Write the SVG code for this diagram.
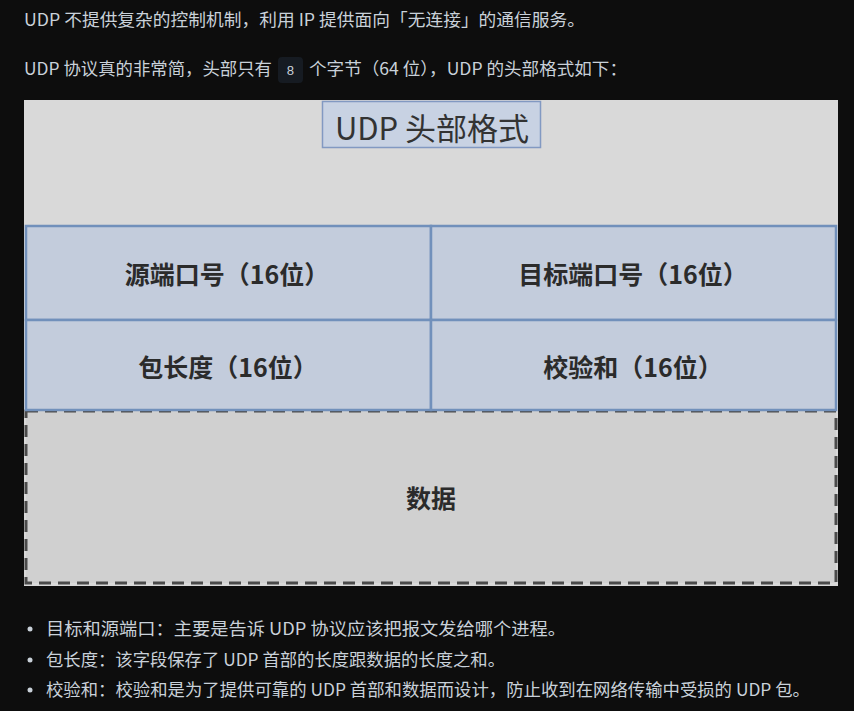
<svg xmlns="http://www.w3.org/2000/svg" width="854" height="711" viewBox="0 0 854 711">
<style>
.p{font-family:"Noto Sans CJK SC","Noto Sans",sans-serif;font-size:17px;fill:#c9d1d9}
.c{font-family:"Noto Sans CJK SC","Noto Sans",sans-serif;font-size:25px;font-weight:bold;fill:#2b2b2b;text-anchor:middle}
.cell{fill:#c3ccdc;stroke:#7190bb;stroke-width:2.5}
</style>
<rect width="854" height="711" fill="#0d0d0d"/>
<text class="p" x="24" y="26" textLength="561" lengthAdjust="spacingAndGlyphs">UDP 不提供复杂的控制机制，利用 IP 提供面向「无连接」的通信服务。</text>
<rect x="278" y="57" width="25" height="26" rx="4" fill="#161b22"/>
<text class="p" x="24" y="75" textLength="248" lengthAdjust="spacingAndGlyphs">UDP 协议真的非常简，头部只有</text>
<text x="290.5" y="75" text-anchor="middle" font-size="13" font-family="Liberation Mono,monospace" fill="#c9d1d9">8</text>
<text class="p" x="309" y="75" textLength="318" lengthAdjust="spacingAndGlyphs">个字节（64 位），UDP 的头部格式如下：</text>
<g id="figure">
<rect x="24" y="100" width="814" height="486" fill="#d9d9d9"/>
<g id="title">
<rect x="322.5" y="101.5" width="218" height="46" fill="#c8d2e3" stroke="#8299c2" stroke-width="1.5"/>
<text x="432" y="140" text-anchor="middle" font-family="Noto Sans CJK SC,Noto Sans,sans-serif" font-size="31" fill="#333">UDP 头部格式</text>
</g>
<g id="data">
<rect x="26" y="411" width="810" height="172" fill="#d0d0d0" stroke="#4a4a4a" stroke-width="3" stroke-dasharray="12,7"/>
<text class="c" x="431" y="508">数据</text>
</g>
<g id="src">
<rect class="cell" x="26" y="226" width="405" height="94"/>
<text class="c" x="227" y="284">源端口号（16位）</text>
</g>
<g id="dst">
<rect class="cell" x="431" y="226" width="405" height="94"/>
<text class="c" x="633" y="284">目标端口号（16位）</text>
</g>
<g id="len">
<rect class="cell" x="26" y="320" width="405" height="90"/>
<text class="c" x="228" y="377">包长度（16位）</text>
</g>
<g id="sum">
<rect class="cell" x="431" y="320" width="405" height="90"/>
<text class="c" x="633" y="377">校验和（16位）</text>
</g>
</g>
<g id="connectors"/>
<circle cx="30" cy="629" r="2.5" fill="#c9d1d9"/>
<circle cx="30" cy="660" r="2.5" fill="#c9d1d9"/>
<circle cx="30" cy="690" r="2.5" fill="#c9d1d9"/>
<text class="p" x="46" y="635" textLength="520" lengthAdjust="spacingAndGlyphs">目标和源端口：主要是告诉 UDP 协议应该把报文发给哪个进程。</text>
<text class="p" x="46" y="666" textLength="459" lengthAdjust="spacingAndGlyphs">包长度：该字段保存了 UDP 首部的长度跟数据的长度之和。</text>
<text class="p" x="46" y="696" textLength="764" lengthAdjust="spacingAndGlyphs">校验和：校验和是为了提供可靠的 UDP 首部和数据而设计，防止收到在网络传输中受损的 UDP 包。</text>
</svg>
